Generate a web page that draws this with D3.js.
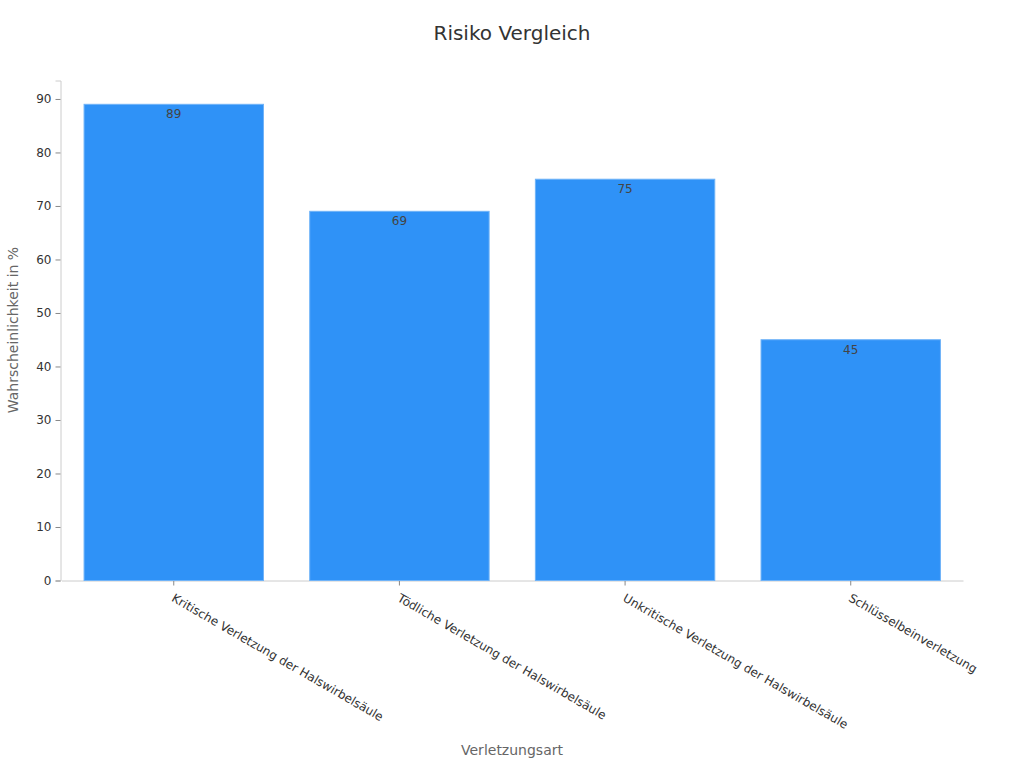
<!DOCTYPE html>
<html><head><meta charset="utf-8">
<script src="https://cdn.jsdelivr.net/npm/d3@7"></script>
<style>body{margin:0;background:#fff;font-family:"DejaVu Sans",sans-serif}</style>
</head><body><svg id="c" width="1024" height="768"></svg>
<script>
const categories = ["Kritische Verletzung der Halswirbelsäule","Tödliche Verletzung der Halswirbelsäule","Unkritische Verletzung der Halswirbelsäule","Schlüsselbeinverletzung"];
const values = [89, 69, 75, 45];
const yTicks = [0,10,20,30,40,50,60,70,80,90];
const title = "Risiko Vergleich";
const xTitle = "Verletzungsart";
const yTitle = "Wahrscheinlichkeit in %";

const svg = d3.select("#c");
const m = {l:60.5, r:61, t:80.5, b:187.5};
const W = 1024, H = 768;
const x = d3.scaleBand().domain(categories).range([m.l+1, W-m.r]).paddingInner(0.205).paddingOuter(0.1);
const y = d3.scaleLinear().domain([0, d3.max(values)*1.05]).range([H-m.b, m.t]);

svg.append("text").attr("x",512).attr("y",40).attr("text-anchor","middle")
  .attr("font-size",20).attr("fill","#333").text(title);

const ya = svg.append("g").attr("transform",`translate(${m.l},0)`)
  .call(d3.axisLeft(y).tickValues(yTicks).tickSize(5).tickPadding(4));
ya.select(".domain").attr("stroke","#ccc");
ya.selectAll(".tick line").attr("stroke","#888");
ya.selectAll(".tick text").attr("font-size",12).attr("fill","#333").attr("font-family","DejaVu Sans");

const xa = svg.append("g").attr("transform",`translate(0,${H-m.b})`)
  .call(d3.axisBottom(x).tickSize(5).tickSizeOuter(0));
xa.select(".domain").attr("stroke","#ccc");
xa.selectAll(".tick line").attr("stroke","#888");
xa.selectAll(".tick text").attr("font-size",12).attr("fill","#333").attr("font-family","DejaVu Sans")
  .attr("text-anchor","start").attr("dy",0).attr("y",0)
  .attr("transform","translate(-3,20) rotate(30)");

svg.append("g").selectAll("rect").data(values).join("rect")
  .attr("x",(d,i)=>x(categories[i])).attr("width",x.bandwidth())
  .attr("y",d=>y(d)).attr("height",d=>y(0)-y(d))
  .attr("fill","#2f92f7").attr("stroke","#6fb3f8").attr("stroke-width",1);

svg.append("g").selectAll("text").data(values).join("text")
  .attr("x",(d,i)=>x(categories[i])+x.bandwidth()/2).attr("y",d=>y(d)+14)
  .attr("text-anchor","middle").attr("font-size",12).attr("fill","#444").text(d=>d);

svg.append("text").attr("x",512).attr("y",755).attr("text-anchor","middle")
  .attr("font-size",14).attr("fill","#666").text(xTitle);
svg.append("text").attr("transform","translate(18,330) rotate(-90)").attr("text-anchor","middle")
  .attr("font-size",14).attr("fill","#666").text(yTitle);
</script></body></html>
